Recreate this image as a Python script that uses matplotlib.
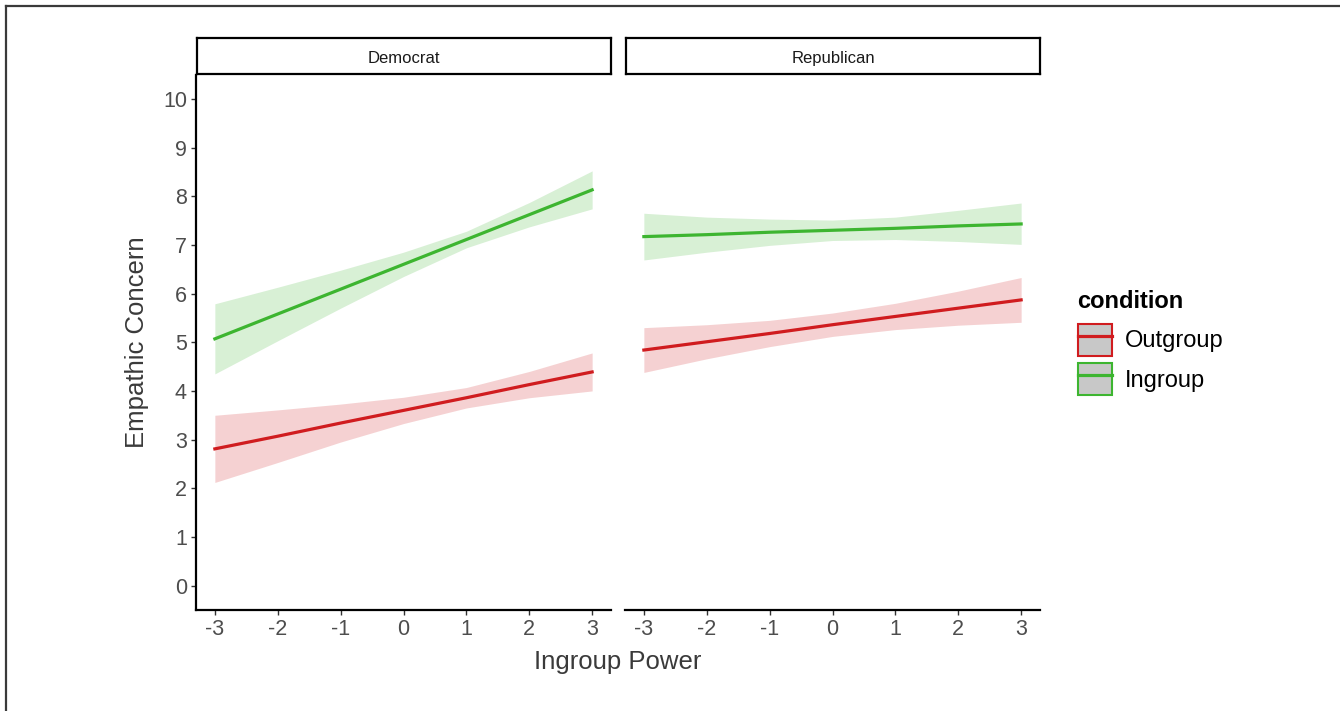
import matplotlib.pyplot as plt
from matplotlib.lines import Line2D
from matplotlib.patches import Patch
import numpy as np

plt.rcParams['font.family'] = ['Liberation Sans', 'DejaVu Sans']

# values
power = [-3, -2, -1, 0, 1, 2, 3]
panels = ["Democrat", "Republican"]
conditions = ["Outgroup", "Ingroup"]

dem_out_fit = [2.81, 3.07, 3.34, 3.60, 3.86, 4.13, 4.39]
dem_out_lo = [2.12, 2.53, 2.95, 3.33, 3.65, 3.86, 4.00]
dem_out_hi = [3.50, 3.61, 3.73, 3.87, 4.07, 4.40, 4.78]

dem_in_fit = [5.07, 5.58, 6.09, 6.60, 7.11, 7.62, 8.13]
dem_in_lo = [4.35, 5.03, 5.70, 6.35, 6.94, 7.37, 7.74]
dem_in_hi = [5.79, 6.13, 6.48, 6.85, 7.28, 7.87, 8.52]

rep_out_fit = [4.84, 5.01, 5.18, 5.36, 5.53, 5.70, 5.87]
rep_out_lo = [4.38, 4.66, 4.91, 5.12, 5.26, 5.35, 5.41]
rep_out_hi = [5.30, 5.36, 5.45, 5.60, 5.80, 6.05, 6.33]

rep_in_fit = [7.17, 7.21, 7.26, 7.30, 7.34, 7.39, 7.43]
rep_in_lo = [6.69, 6.85, 6.99, 7.09, 7.11, 7.07, 7.01]
rep_in_hi = [7.65, 7.57, 7.53, 7.51, 7.57, 7.71, 7.86]

data = {
    "Democrat": [(dem_out_fit, dem_out_lo, dem_out_hi), (dem_in_fit, dem_in_lo, dem_in_hi)],
    "Republican": [(rep_out_fit, rep_out_lo, rep_out_hi), (rep_in_fit, rep_in_lo, rep_in_hi)],
}
colors = ["#D01C1F", "#3DB530"]

W, H = 1340, 711
fig = plt.figure(figsize=(W / 100, H / 100), dpi=100)

# thin frame on the left and top of the image
fig.add_artist(Line2D([5.5 / W, 5.5 / W], [0, 1 - 5.5 / H], color="#3a3a3a", lw=1.6))
fig.add_artist(Line2D([5.5 / W, 1], [1 - 5.5 / H, 1 - 5.5 / H], color="#3a3a3a", lw=1.6))

lefts = [196, 625]
pw = 415
for i, name in enumerate(panels):
    ax = fig.add_axes([lefts[i] / W, 1 - 610 / H, pw / W, (610 - 74.5) / H])
    for (fit, lo, hi), c in zip(data[name], colors):
        ax.fill_between(power, lo, hi, color=c, alpha=0.2, lw=0)
        ax.plot(power, fit, color=c, lw=2.3)
    ax.set_xlim(-3.3, 3.3)
    ax.set_ylim(-0.5, 10.5)
    ax.set_xticks(power)
    ax.set_xticklabels([str(p) for p in power])
    ax.set_yticks(range(0, 11))
    ax.spines["top"].set_visible(False)
    ax.spines["right"].set_visible(False)
    ax.spines["bottom"].set_linewidth(1.6)
    ax.spines["left"].set_linewidth(1.6)
    ax.tick_params(length=3.5, width=1, color="#333333", labelsize=15.5,
                   labelcolor="#4D4D4D", pad=3)
    if i == 1:
        ax.spines["left"].set_visible(False)
        ax.tick_params(axis="y", left=False, labelleft=False)
    else:
        ax.set_ylabel("Empathic Concern", fontsize=18.5, color="#3a3a3a", labelpad=10)

    # facet strip
    sax = fig.add_axes([(lefts[i] + 1) / W, 1 - 74 / H, (pw - 1) / W, 36 / H])
    sax.set_xticks([])
    sax.set_yticks([])
    for s in sax.spines.values():
        s.set_linewidth(1.6)
    sax.text(0.5, 0.44, name, ha="center", va="center", fontsize=12, color="#1a1a1a",
             transform=sax.transAxes)

fig.text(618 / W, 1 - 662 / H, "Ingroup Power", ha="center", va="center",
         fontsize=18.5, color="#3a3a3a")

# legend: title as separate text so the gap under it matches
fig.text(1077 / W, 1 - 301 / H, "condition", ha="left", va="center",
         fontsize=17, fontweight="bold")
handles = [(Patch(facecolor="#C8C8C8", edgecolor=c, lw=1.5), Line2D([], [], color=c, lw=2.3))
           for c in colors]
leg = fig.legend(handles, conditions, loc="upper left",
                 bbox_to_anchor=(1061 / W, 1 - 307 / H), frameon=False,
                 fontsize=17, handlelength=1.45, handleheight=1.75,
                 handletextpad=0.55, labelspacing=0.28, borderpad=0.2)

fig.savefig("out.png", dpi=100, facecolor="white")
